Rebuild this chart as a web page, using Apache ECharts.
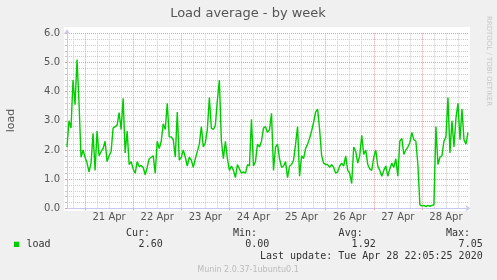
<!DOCTYPE html>
<html><head><meta charset="utf-8">
<script src="https://cdn.jsdelivr.net/npm/echarts@6/dist/echarts.min.js"></script>
<style>html,body{margin:0;padding:0;background:#F0F0F0}#c{width:497px;height:280px}</style>
</head><body><div id="c"></div>
<script>
// ---- data ----
const titleText = 'Load average - by week';
const seriesName = 'load';
// hourly samples starting Tue Apr 20 2020 15:00
const startTimeUTC = Date.UTC(2020, 3, 20, 15, 0, 0);
const loadValues = [
  2.1, 3.0, 2.75, 4.4, 3.55, 5.1, 3.6, 1.75, 2.0, 1.75,
  1.55, 1.25, 1.55, 2.57, 1.3, 2.65, 1.8, 1.95, 2.05, 2.3,
  1.6, 1.8, 1.95, 2.75, 2.8, 2.85, 3.28, 2.7, 3.77, 1.9,
  2.65, 1.5, 1.6, 1.35, 1.2, 1.6, 1.43, 1.47, 1.4, 1.15,
  1.4, 1.7, 1.75, 1.8, 1.2, 2.3, 2.05, 2.3, 2.9, 2.7,
  3.6, 2.45, 2.45, 2.35, 1.75, 3.3, 1.65, 1.75, 2.0, 1.75,
  1.45, 1.75, 1.65, 1.4, 1.7, 1.95, 2.2, 2.8, 2.1, 2.25,
  2.7, 3.8, 2.75, 2.7, 2.85, 3.7, 4.4, 2.3, 1.7, 2.3,
  1.7, 1.3, 1.45, 1.3, 1.05, 1.5, 1.35, 1.2, 1.25, 1.2,
  1.5, 1.45, 3.05, 1.45, 1.6, 2.2, 2.1, 2.3, 2.75, 2.8,
  2.6, 2.7, 3.26, 1.3, 2.1, 2.2, 1.7, 1.4, 1.45, 1.6,
  1.05, 1.45, 1.5, 1.65, 2.2, 2.8, 1.1, 1.8, 1.7, 2.05,
  2.2, 2.4, 2.65, 2.95, 3.3, 3.4, 2.7, 1.8, 1.55, 1.5,
  1.5, 1.4, 1.5, 1.4, 1.2, 1.25, 1.45, 1.55, 1.45, 1.8,
  1.3, 1.2, 0.85, 2.1, 1.95, 1.55, 1.8, 2.5, 1.85, 2.0,
  1.5, 1.35, 1.3, 1.75, 2.0, 1.45, 1.3, 1.1, 1.3, 1.45,
  1.1, 1.35, 1.55, 1.4, 1.7, 1.1, 2.3, 2.4, 1.85, 2.0,
  2.1, 2.25, 2.6, 2.35, 2.3, 1.5, 0.12, 0.08, 0.1, 0.06,
  0.1, 0.07, 0.1, 0.12, 2.8, 1.5, 1.75, 1.8, 2.3, 2.45,
  3.8, 1.9, 3.0, 2.1, 3.1, 3.6, 2.35, 3.4, 2.35, 2.2,
  2.6
];
const dayLabels = ['21 Apr', '22 Apr', '23 Apr', '24 Apr', '25 Apr', '26 Apr', '27 Apr', '28 Apr'];
const yTickValues = [0, 1, 2, 3, 4, 5, 6];
const statHeaders = ['Cur:', 'Min:', 'Avg:', 'Max:'];
const statValues = ['2.60', '0.00', '1.92', '7.05'];
const lastUpdateText = 'Last update: Tue Apr 28 22:05:25 2020';
const footerText = 'Munin 2.0.37-1ubuntu0.1';
const watermarkText = 'RRDTOOL / TOBI OETIKER';

// ---- categories (hour stamps) ----
function pad(n){ return (n < 10 ? '0' : '') + n; }
const categories = loadValues.map(function(_, i){
  const d = new Date(startTimeUTC + i * 3600e3);
  return (d.getUTCMonth()+1) + '-' + pad(d.getUTCDate()) + ' ' + pad(d.getUTCHours()) + ':00';
});
function hourOf(i){ return new Date(startTimeUTC + i * 3600e3).getUTCHours(); }
function dayIndexOf(i){ return Math.floor((startTimeUTC + i * 3600e3 - Date.UTC(2020,3,21)) / 86400e3); }

const chart = echarts.init(document.getElementById('c'), null, {renderer: 'canvas'});
const axisCol = '#C8C8F0';
const gridGrey = '#CCCCCC';
const gridRed = '#E4A0A0';
const sans = '"DejaVu Sans", sans-serif';
const mono = '"DejaVu Sans Mono", monospace';

const graphics = [
  {type: 'rect', z: -10, silent: true, shape: {x: 64, y: 27, width: 406, height: 184}, style: {fill: '#FFFFFF'}},
  {type: 'text', x: 248, y: 13.5, style: {text: titleText, font: '13px ' + sans, fill: '#555555', align: 'center', verticalAlign: 'middle'}},
  {type: 'text', x: 11, y: 120.5, rotation: Math.PI / 2, style: {text: seriesName, font: '11px ' + sans, fill: '#555555', align: 'center', verticalAlign: 'middle'}},
  {type: 'text', x: 488.5, y: 61, rotation: -Math.PI / 2, style: {text: watermarkText, font: '7px ' + sans, fill: '#C8C8C8', align: 'center', verticalAlign: 'middle'}},
  {type: 'rect', shape: {x: 14, y: 241.7, width: 5.3, height: 5.3}, style: {fill: '#00CC00'}},
  {type: 'text', x: 26.5, y: 244.5, style: {text: seriesName, font: '10px ' + mono, fill: '#333333', align: 'left', verticalAlign: 'middle'}},
  {type: 'text', x: 482.7, y: 256.3, style: {text: lastUpdateText, font: '10px ' + mono, fill: '#333333', align: 'right', verticalAlign: 'middle'}},
  {type: 'text', x: 248, y: 269.5, style: {text: footerText, font: '8px ' + sans, fill: '#BBBBBB', align: 'center', verticalAlign: 'middle'}}
];
const headerRight = [150, 257, 362.7, 470];
const valueRight = [162.7, 269.3, 375.7, 482.7];
statHeaders.forEach(function(t, k){
  graphics.push({type: 'text', x: headerRight[k], y: 233.5, style: {text: t, font: '10px ' + mono, fill: '#333333', align: 'right', verticalAlign: 'middle'}});
  graphics.push({type: 'text', x: valueRight[k], y: 244.5, style: {text: statValues[k], font: '10px ' + mono, fill: '#333333', align: 'right', verticalAlign: 'middle'}});
});

const option = {
  backgroundColor: '#F0F0F0',
  animation: false,
  grid: {left: 67, top: 33.3, width: 401, height: 175, show: false},
  xAxis: [
    {
      type: 'category', data: categories, boundaryGap: false, position: 'bottom',
      axisLine: {show: true, lineStyle: {color: axisCol, width: 1}, symbol: ['none', 'arrow'], symbolSize: [5, 5], symbolOffset: [0, 2.5]},
      axisTick: {show: false},
      axisLabel: {
        interval: function(i){ return hourOf(i) === 12; },
        formatter: function(v, i){ return dayLabels[dayIndexOf(i)] || ''; },
        color: '#555555', fontFamily: sans, fontSize: 10, margin: 4
      },
      splitLine: {show: true, interval: function(i){ return hourOf(i) % 6 === 0 && hourOf(i) !== 0; }, lineStyle: {color: gridGrey, width: 1, type: [1, 1]}}
    },
    {
      type: 'category', data: categories, boundaryGap: false, position: 'bottom',
      axisLine: {show: false},
      axisTick: {show: true, interval: function(i){ return hourOf(i) === 0; }, length: 2, inside: false, lineStyle: {color: gridRed}},
      axisLabel: {show: false},
      splitLine: {show: true, interval: function(i){ return hourOf(i) === 0; }, lineStyle: {color: gridRed, width: 1, type: [1, 1]}}
    }
  ],
  yAxis: {
    type: 'value', min: yTickValues[0], max: yTickValues[yTickValues.length - 1], interval: 1,
    axisLine: {show: true, lineStyle: {color: axisCol, width: 1}, symbol: ['none', 'arrow'], symbolSize: [5, 5], symbolOffset: [0, 4]},
    axisTick: {show: true, length: 2, lineStyle: {color: gridRed}},
    minorTick: {show: true, splitNumber: 5, length: 2, lineStyle: {color: gridGrey}},
    axisLabel: {color: '#555555', fontFamily: sans, fontSize: 10, margin: 7, formatter: function(v){ return v.toFixed(1); }},
    splitLine: {show: true, lineStyle: {color: gridRed, width: 1, type: [1, 1]}},
    minorSplitLine: {show: true, lineStyle: {color: gridGrey, width: 1, type: [1, 1]}}
  },
  series: [{
    name: seriesName, type: 'line', data: loadValues, xAxisIndex: 0, yAxisIndex: 0,
    showSymbol: false, symbol: 'none', z: 5,
    lineStyle: {color: '#00CC00', width: 1.4}
  }],
  graphic: graphics
};
chart.setOption(option);
</script>
</body></html>
